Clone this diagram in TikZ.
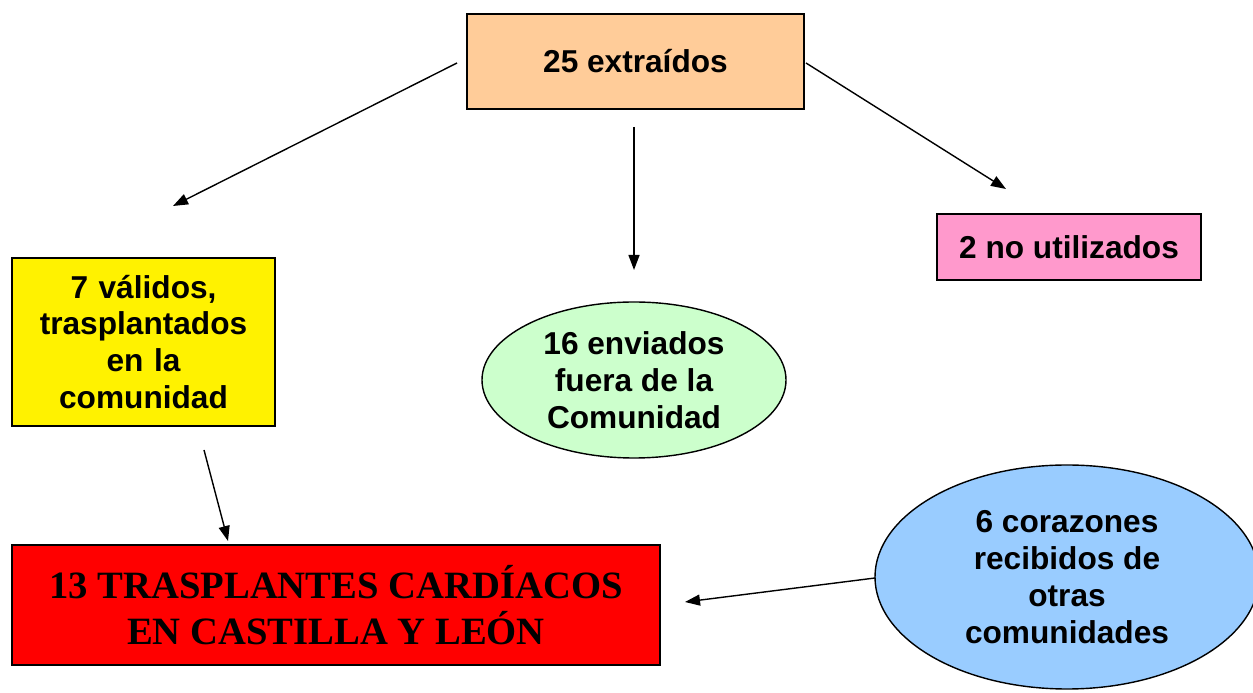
\documentclass[tikz,border=0pt]{standalone}
\usepackage{fontspec}
\setmainfont{Liberation Serif}
\setsansfont{Liberation Sans}
\usetikzlibrary{arrows.meta,shapes.geometric}
\definecolor{peach}{HTML}{FFCC99}
\definecolor{rosa}{HTML}{FF99CC}
\definecolor{verde}{HTML}{CCFFCC}
\definecolor{celeste}{HTML}{99CCFF}
\tikzset{
  caja/.style={draw, line width=0.8pt, inner sep=0pt, align=center,
    font=\sffamily\bfseries\fontsize{18}{21}\selectfont},
  ovalo/.style={caja, ellipse},
  flecha/.style={-{Triangle[length=0.3cm,width=0.22cm]}, line width=0.8pt}
}
\begin{document}
\begin{tikzpicture}
\useasboundingbox (0,0) rectangle (25.06,13.86);
\clip (0,0) rectangle (25.06,13.86);

\node[caja, fill=peach, minimum width=6.74cm, minimum height=1.9cm] (extr) at (12.71,12.63) {25 extraídos};
\node[caja, fill=rosa, minimum width=5.28cm, minimum height=1.32cm] (nouti) at (21.38,8.92) {2 no utilizados};
\node[caja, fill=yellow, minimum width=5.26cm, minimum height=3.36cm, text width=5cm] (valid) at (2.87,7.02) {7 válidos,\\trasplantados\\en la\\comunidad};
\node[ovalo, fill=verde, minimum width=6.08cm, minimum height=3.12cm] (envia) at (12.68,6.26) {16 enviados\\fuera de la\\Comunidad};
\node[caja, fill=red, minimum width=12.96cm, minimum height=2.4cm,
  font=\rmfamily\bfseries\fontsize{22}{26}\selectfont] (total) at (6.72,1.76) {13 TRASPLANTES CARDÍACOS\\EN CASTILLA Y LEÓN};
\node[ovalo, fill=celeste, minimum width=7.68cm, minimum height=4.48cm] (recib) at (21.34,2.32) {6 corazones\\recibidos de\\otras\\comunidades};

% extremos de las flechas
\coordinate (a1) at (9.14,12.6);
\coordinate (b1) at (3.46,9.74);
\coordinate (a2) at (12.68,11.32);
\coordinate (b2) at (12.68,8.46);
\coordinate (a3) at (16.12,12.6);
\coordinate (b3) at (20.12,10.08);
\coordinate (a4) at (4.08,4.86);
\coordinate (b4) at (4.56,3.04);
\coordinate (a5) at (17.5,2.3);
\coordinate (b5) at (13.7,1.82);

\draw[flecha] (a1)--(b1);
\draw[flecha] (a2)--(b2);
\draw[flecha] (a3)--(b3);
\draw[flecha] (a4)--(b4);
\draw[flecha] (a5)--(b5);
\end{tikzpicture}
\end{document}
